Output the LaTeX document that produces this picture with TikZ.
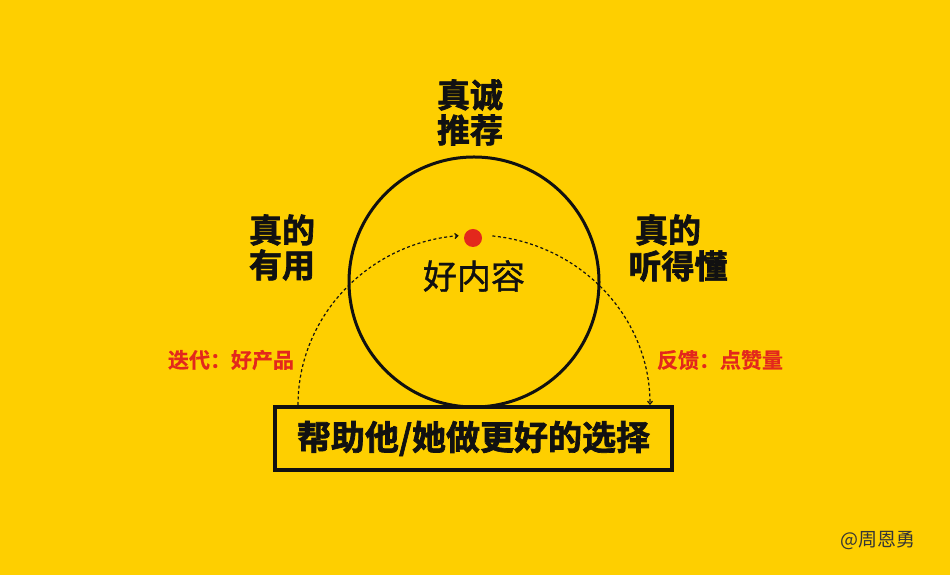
\documentclass[tikz,border=0pt]{standalone}
\usepackage{fontspec}
\newfontfamily\cjk{Noto Sans CJK SC}
\newfontfamily\cjkm[FakeBold=1]{Noto Sans CJK SC}
\newfontfamily\cjkb[FakeBold=2]{Noto Sans CJK SC Bold}
\newfontfamily\cjkr[FakeBold=0.5]{Noto Sans CJK SC Bold}
\usetikzlibrary{arrows.meta,calc}
\definecolor{bg}{HTML}{FECF00}
\definecolor{redlbl}{HTML}{E3281C}
\definecolor{ink}{HTML}{111111}
\tikzset{
  head/.style={font=\cjkb\fontsize{33}{36}\selectfont, text=ink, inner sep=0pt},
  redtxt/.style={font=\cjkr\fontsize{21}{23}\selectfont, text=redlbl, inner sep=0pt},
  flow/.style={dash pattern=on 3pt off 2.5pt, line width=1.2pt, ink, -{Straight Barb[length=3pt,width=5pt]}}
}
\begin{document}
\begin{tikzpicture}[x=1pt,y=1pt]
\fill[bg] (0,0) rectangle (950,575);
\useasboundingbox (0,0) rectangle (950,575);
% main circle
\node[circle, draw=ink, line width=3pt, minimum size=250pt, inner sep=0pt] (circ) at (474,293) {};
\node[circle, fill=redlbl, minimum size=18pt, inner sep=0pt] (dot) at (473,337) {};
\node[font=\cjkm\fontsize{34}{36}\selectfont, text=ink, inner sep=0pt] (good) at (474,299) {好内容};
% headings
\node[head] (t1) at (470,480) {真诚};
\node[head] (t2) at (470,445) {推荐};
\node[head] (l1) at (282,345) {真的};
\node[head] (l2) at (282,310) {有用};
\node[head] (r1) at (668,345) {真的};
\node[head] (r2) at (678,309) {听得懂};
% box
\node[draw=ink, line width=4pt, minimum width=397pt, minimum height=63pt, inner sep=0pt,
      font=\cjkb\fontsize{34}{36}\selectfont, text=ink] (box) at (473.5,136.5) {帮助他/她做更好的选择};
% red labels
\node[redtxt] (iter) at (231,215) {迭代：好产品};
\node[redtxt] (fb) at (720,215) {反馈：点赞量};
% dashed arcs
\coordinate (ls) at (298,170);
\coordinate (rs) at ($(474,170)+(84:176pt and 170pt)$);
\draw[flow] (ls) arc[start angle=180, end angle=95, x radius=176pt, y radius=170pt];
\draw[flow] (rs) arc[start angle=84, end angle=0, x radius=176pt, y radius=170pt];
% watermark
\node[font=\cjk\fontsize{19}{21}\selectfont, text=ink!85, inner sep=0pt] (wm) at (878,34) {@周恩勇};
\end{tikzpicture}
\end{document}
